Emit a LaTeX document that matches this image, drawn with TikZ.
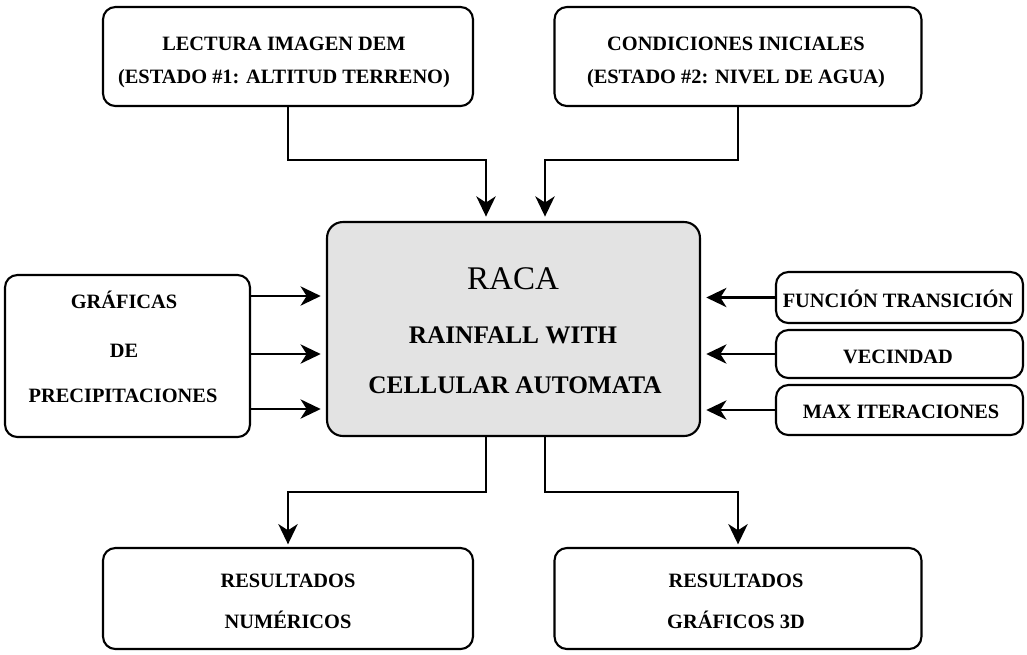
\documentclass[tikz,border=0pt]{standalone}
\usepackage{fontspec}
\setmainfont{Liberation Serif}
\usetikzlibrary{arrows.meta}
\definecolor{boxgray}{HTML}{E3E3E3}
\tikzset{
  px/.style={x=0.02cm,y=-0.02cm},
  box/.style={draw=black, line width=1.2pt, rounded corners=7pt, inner sep=0pt},
  lbl/.style={anchor=base, inner sep=0pt, font=\fontsize{11.6}{14}\selectfont\bfseries},
  big/.style={anchor=base, inner sep=0pt, font=\fontsize{14.4}{17}\selectfont\bfseries},
  title/.style={anchor=base, inner sep=0pt, font=\fontsize{18.8}{22}\selectfont},
  arr/.style={line width=1.2pt, -{Stealth[length=11.5pt,width=11pt,inset=3.5pt]}},
}
\begin{document}
\begin{tikzpicture}[px]
\useasboundingbox (0,0) rectangle (1027,654);
% boxes
\node[box, minimum width=7.4cm, minimum height=1.98cm] (TL) at (288,56.5) {};
\node[box, minimum width=7.34cm, minimum height=1.98cm] (TR) at (738,56.5) {};
\node[box, fill=boxgray, rounded corners=9pt, minimum width=7.46cm, minimum height=4.28cm] (C) at (513.5,329) {};
\node[box, minimum width=4.9cm, minimum height=3.24cm] (L) at (127.5,356) {};
\node[box, minimum width=4.94cm, minimum height=1.02cm] (R1) at (899.5,297.5) {};
\node[box, minimum width=4.94cm, minimum height=0.96cm] (R2) at (899.5,354) {};
\node[box, minimum width=4.94cm, minimum height=1.0cm] (R3) at (899.5,410) {};
\node[box, minimum width=7.4cm, minimum height=2.02cm] (BL) at (288,598.5) {};
\node[box, minimum width=7.34cm, minimum height=2.02cm] (BR) at (738,598.5) {};
% texts
\node[lbl] (TLa) at (284,50) {LECTURA IMAGEN DEM};
\node[lbl] (TLb) at (284,83) {(ESTADO \#1: ALTITUD TERRENO)};
\node[lbl] (TRa) at (736,50) {CONDICIONES INICIALES};
\node[lbl] (TRb) at (736,83) {(ESTADO \#2: NIVEL DE AGUA)};
\node[title] (Ca) at (513,289) {RACA};
\node[big] (Cb) at (513,343) {RAINFALL WITH};
\node[big] (Cc) at (515,393) {CELLULAR AUTOMATA};
\node[lbl] (La) at (124,308) {GRÁFICAS};
\node[lbl] (Lb) at (124,357) {DE};
\node[lbl] (Lc) at (123,402) {PRECIPITACIONES};
\node[lbl] (R1t) at (898,307) {FUNCIÓN TRANSICIÓN};
\node[lbl] (R2t) at (898,363) {VECINDAD};
\node[lbl] (R3t) at (901,418) {MAX ITERACIONES};
\node[lbl] (BLa) at (288,587) {RESULTADOS};
\node[lbl] (BLb) at (288,628) {NUMÉRICOS};
\node[lbl] (BRa) at (736,587) {RESULTADOS};
\node[lbl] (BRb) at (736,628) {GRÁFICOS 3D};
% routing points
\coordinate (t1) at (486,160);
\coordinate (t2) at (545,160);
\coordinate (b1) at (486,492);
\coordinate (b2) at (545,492);
\coordinate (l1) at (0,296);
\coordinate (l2) at (0,354);
\coordinate (l3) at (0,409);
% connectors
\draw[arr, shorten >=2.5pt] (TL.south) |- (t1) -- (t1 |- C.north);
\draw[arr, shorten >=2.5pt] (TR.south) |- (t2) -- (t2 |- C.north);
\draw[arr, shorten >=3pt] (l1 -| L.east) -- (l1 -| C.west);
\draw[arr, shorten >=3pt] (l2 -| L.east) -- (l2 -| C.west);
\draw[arr, shorten >=3pt] (l3 -| L.east) -- (l3 -| C.west);
\draw[arr, shorten >=3pt] (R1.west) -- (R1.west -| C.east);
\draw[arr, shorten >=3pt] (R2.west) -- (R2.west -| C.east);
\draw[arr, shorten >=3pt] (R3.west) -- (R3.west -| C.east);
\draw[arr, shorten >=1.5pt] (b1 |- C.south) -- (b1) -| (BL.north);
\draw[arr, shorten >=1.5pt] (b2 |- C.south) -- (b2) -| (BR.north);
\end{tikzpicture}
\end{document}
